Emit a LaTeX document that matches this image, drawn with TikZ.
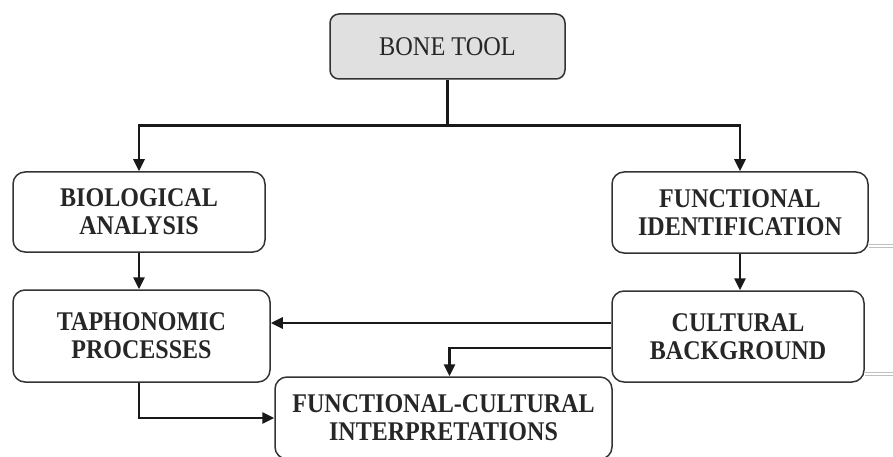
\documentclass[tikz,border=0pt]{standalone}
\usepackage{fontspec}
\setmainfont{Liberation Serif}
\usetikzlibrary{arrows.meta,calc}
\begin{document}
\begin{tikzpicture}[x=1pt,y=-1pt,
  box/.style={draw=black!80, line width=1.5pt, rounded corners=12pt, align=center,
    inner sep=0pt, text=black!85, font=\fontsize{27}{28}\selectfont\bfseries\addfontfeatures{FakeStretch=0.89}},
  arr/.style={line width=2.8pt, draw=black!90, -{Triangle[length=12pt,width=11pt]}},
  conn/.style={line width=2.8pt, draw=black!90},
  artifact/.style={draw=black!25, line width=0.8pt}]
\useasboundingbox (0,0) rectangle (893,457);
\node[box, fill=black!12, rounded corners=9pt, minimum width=235pt, minimum height=65pt,
  font=\fontsize{27}{28}\selectfont\addfontfeatures{FakeStretch=0.9}] (bone) at (447.5,46.5) {BONE TOOL};
\node[box, minimum width=252pt, minimum height=80pt] (bio) at (139,212) {BIOLOGICAL\\ANALYSIS};
\node[box, minimum width=256pt, minimum height=81pt] (fid) at (740,212.5) {FUNCTIONAL\\IDENTIFICATION};
\node[box, minimum width=257pt, minimum height=92pt] (taph) at (141.5,336) {TAPHONOMIC\\PROCESSES};
\node[box, minimum width=252pt, minimum height=91pt] (cult) at (738,336.5) {CULTURAL\\BACKGROUND};
\node[box, minimum width=337pt, minimum height=82pt] (fci) at (443.5,418) {FUNCTIONAL-CULTURAL\\INTERPRETATIONS};
\draw[conn] (bone.south) -- ++(0,46) coordinate (j);
\draw[arr] (j) -| (bio.north);
\draw[arr] (j) -| (fid.north);
\draw[arr] (bio.south) -- (bio.south |- taph.north);
\draw[arr] (fid.south) -- (fid.south |- cult.north);
\draw[arr] ([yshift=13.5]cult.west) -- ([yshift=13.5]cult.west -| taph.east);
\draw[arr] ([yshift=-11.5]cult.west) -| ([xshift=6]fci.north);
\draw[arr] ([xshift=-2.5]taph.south) |- (fci.west);
\draw[artifact] (fid.east |- 0,244) -- (893,244);
\draw[artifact] (fid.east |- 0,247) -- (893,247);
\draw[artifact] (cult.east |- 0,372) -- (893,372);
\draw[artifact] (cult.east |- 0,375) -- (893,375);
\end{tikzpicture}
\end{document}
